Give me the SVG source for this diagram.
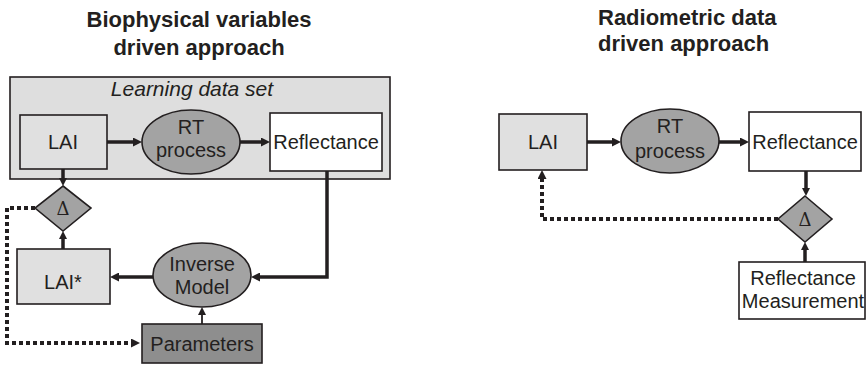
<svg xmlns="http://www.w3.org/2000/svg" width="866" height="365" viewBox="0 0 866 365">
<defs>
<style>
.t{font-family:"Liberation Sans",Arial,sans-serif;font-size:20px;fill:#231f20;text-anchor:middle}
.title{font-family:"Liberation Sans",Arial,sans-serif;font-size:22px;font-weight:bold;fill:#231f20}
.box{stroke:#231f20;stroke-width:1.6}
.light{fill:#e0e0e0}
.white{fill:#ffffff}
.mid{fill:#a3a3a3}
.dark{fill:#8e8e8e}
.c{fill:none;stroke:#231f20;stroke-width:3.5}
.thin{fill:none;stroke:#231f20;stroke-width:1.8}
.dot{fill:none;stroke:#231f20;stroke-width:4;stroke-dasharray:4 3}
.delta{font-family:"DejaVu Serif","Liberation Serif",serif;font-size:18px;fill:#231f20;text-anchor:middle}
</style>
<marker id="ah" viewBox="0 0 9 9" markerWidth="9" markerHeight="9" markerUnits="userSpaceOnUse" refX="0" refY="4.5" orient="auto">
<path d="M0,0 L9,4.5 L0,9 z" fill="#231f20"/>
</marker>
<marker id="ahs" viewBox="0 0 8 8" markerWidth="8" markerHeight="8" markerUnits="userSpaceOnUse" refX="0" refY="4" orient="auto">
<path d="M0,0 L8,4 L0,8 z" fill="#231f20"/>
</marker>
</defs>
<rect width="866" height="365" fill="#ffffff"/>

<g id="titles">
<text class="title" x="199" y="27" text-anchor="middle">Biophysical variables</text>
<text class="title" x="199" y="55" text-anchor="middle">driven approach</text>
<text class="title" x="598" y="25">Radiometric data</text>
<text class="title" x="598" y="51">driven approach</text>
</g>

<g id="learning-set">
<rect class="box" x="10" y="77" width="380" height="102" fill="#dedede"/>
<text class="t" x="192" y="96" style="font-style:italic;font-size:21px">Learning data set</text>
</g>

<g id="connectors">
<line class="c" x1="107" y1="142" x2="133" y2="142" marker-end="url(#ah)"/>
<line class="c" x1="240" y1="142" x2="261" y2="142" marker-end="url(#ah)"/>
<line class="c" x1="63" y1="169" x2="63" y2="178" marker-end="url(#ahs)"/>
<line class="c" x1="63" y1="249" x2="63" y2="239" marker-end="url(#ahs)"/>
<line class="c" x1="153" y1="277" x2="119" y2="277" marker-end="url(#ah)"/>
<path class="c" d="M327,171 V277 H260" marker-end="url(#ah)"/>
<line class="thin" x1="202" y1="324" x2="202" y2="315" marker-end="url(#ahs)"/>
<path class="dot" d="M35,208 H7 V343 H131" marker-end="url(#ah)"/>

<line class="c" x1="587" y1="142" x2="612" y2="142" marker-end="url(#ah)"/>
<line class="c" x1="719" y1="142" x2="740" y2="142" marker-end="url(#ah)"/>
<line class="c" x1="806" y1="171" x2="806" y2="188" marker-end="url(#ahs)"/>
<line class="c" x1="805" y1="262" x2="805" y2="250" marker-end="url(#ahs)"/>
<path class="dot" d="M778,219 H542 V179" marker-end="url(#ah)"/>
</g>

<g id="lai-left">
<rect class="box light" x="20" y="115" width="87" height="54"/>
<text class="t" x="63" y="149">LAI</text>
</g>
<g id="rt-left">
<ellipse class="box mid" cx="191" cy="142" rx="49" ry="32"/>
<text class="t" x="191" y="134">RT</text>
<text class="t" x="191" y="157">process</text>
</g>
<g id="refl-left">
<rect class="box white" x="270" y="113" width="112" height="58"/>
<text class="t" x="326" y="149">Reflectance</text>
</g>
<g id="delta-left">
<polygon class="box mid" points="63,186 91,208 63,231 35,208"/>
<text class="delta" x="63" y="215">Δ</text>
</g>
<g id="laistar">
<rect class="box light" x="17" y="249" width="93" height="55"/>
<text class="t" x="63" y="289">LAI*</text>
</g>
<g id="inverse">
<ellipse class="box mid" cx="202" cy="275" rx="49" ry="32"/>
<text class="t" x="202" y="271">Inverse</text>
<text class="t" x="202" y="294">Model</text>
</g>
<g id="parameters">
<rect class="box dark" x="142" y="324" width="120" height="39"/>
<text class="t" x="202" y="351">Parameters</text>
</g>

<g id="lai-right">
<rect class="box light" x="499" y="114" width="88" height="56"/>
<text class="t" x="543" y="149">LAI</text>
</g>
<g id="rt-right">
<ellipse class="box mid" cx="670" cy="141" rx="49" ry="32"/>
<text class="t" x="670" y="133">RT</text>
<text class="t" x="670" y="158">process</text>
</g>
<g id="refl-right">
<rect class="box white" x="749" y="112" width="112" height="59"/>
<text class="t" x="805" y="149">Reflectance</text>
</g>
<g id="delta-right">
<polygon class="box mid" points="805,196 832,219 805,242 778,219"/>
<text class="delta" x="805" y="226">Δ</text>
</g>
<g id="measurement">
<rect class="box white" x="739" y="262" width="126" height="57"/>
<text class="t" x="803" y="285">Reflectance</text>
<text class="t" x="803" y="308">Measurement</text>
</g>
</svg>
